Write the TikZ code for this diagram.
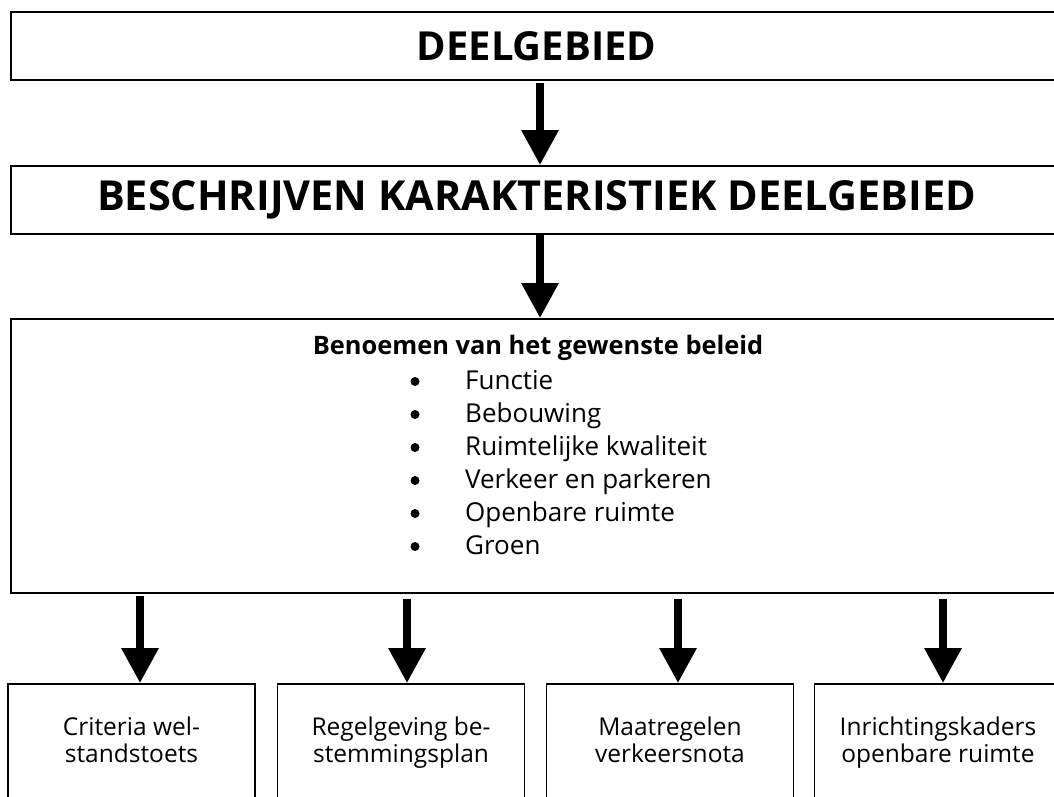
\documentclass[tikz,border=0pt]{standalone}
\usepackage{fontspec}
\setmainfont{Open Sans}
\usetikzlibrary{arrows.meta}
\begin{document}
\begin{tikzpicture}[x=1pt,y=-1pt,
  box/.style={draw, line width=1.6pt, inner sep=0pt},
  bigarrow/.style={line width=8.5pt, -{Triangle[width=35pt,length=35pt]}},
  item/.style={anchor=base west, inner sep=0pt, font=\fontsize{26}{30}\selectfont},
  bul/.style={circle, fill, inner sep=0pt, minimum size=9pt},
  onder/.style={draw, line width=1.6pt, minimum width=247pt, minimum height=140pt, inner sep=0pt},
  ondertekst/.style={anchor=base, align=center, inner sep=0pt, font=\fontsize{24.5}{27}\selectfont},
]
\useasboundingbox (0,0) rectangle (1054,797);
\clip (0,0) rectangle (1054,797);
\fill[white] (0,0) rectangle (1054,797);
\node[box, minimum width=1051pt, minimum height=68pt, font=\bfseries\fontsize{40}{44}\selectfont] (top) at (536.5,46) {DEELGEBIED};
\node[box, minimum width=1051pt, minimum height=68pt, font=\bfseries\fontsize{41.4}{44}\selectfont] (kar) at (536.5,200) {BESCHRIJVEN KARAKTERISTIEK DEELGEBIED};
\node[box, minimum width=1051pt, minimum height=274pt] (beleid) at (536.5,456) {};
\node[anchor=base, inner sep=0pt, font=\bfseries\fontsize{25.4}{28}\selectfont] (kop) at (538,354) {Benoemen van het gewenste beleid};
\foreach \t [count=\i] in {Functie,Bebouwing,Ruimtelijke kwaliteit,Verkeer en parkeren,Openbare ruimte,Groen}{
  \node[bul] (bul\i) at (415,{381.5+33*(\i-1)}) {};
  \node[item] (item\i) at (465,{389+33*(\i-1)}) {\t};
}
\node[onder] (b1) at (131.5,754) {};
\node[onder] (b2) at (401,754) {};
\node[onder] (b3) at (670,754) {};
\node[onder] (b4) at (938,754) {};
\node[ondertekst] (t1) at (131.5,762) {Criteria wel-\\standstoets};
\node[ondertekst] (t2) at (401,762) {Regelgeving be-\\stemmingsplan};
\node[ondertekst] (t3) at (670,762) {Maatregelen\\verkeersnota};
\node[ondertekst] (t4) at (938,762) {Inrichtingskaders\\openbare ruimte};
\draw[bigarrow] ([xshift=3.5pt,yshift=-2pt]top.south) -- ([xshift=3.5pt]kar.north);
\draw[bigarrow] ([xshift=3.5pt]kar.south) -- ([xshift=3.5pt]beleid.north);
\coordinate (p1) at ([xshift=8.5pt]b1.north);
\coordinate (p2) at ([xshift=6pt]b2.north);
\coordinate (p3) at ([xshift=8pt]b3.north);
\coordinate (p4) at ([xshift=5pt]b4.north);
\draw[bigarrow] ([yshift=-2pt]p1 |- beleid.south) -- (p1);
\foreach \k in {2,3,4}{
  \draw[bigarrow] ([yshift=-5pt]p\k |- beleid.south) -- (p\k);
}
\end{tikzpicture}
\end{document}
